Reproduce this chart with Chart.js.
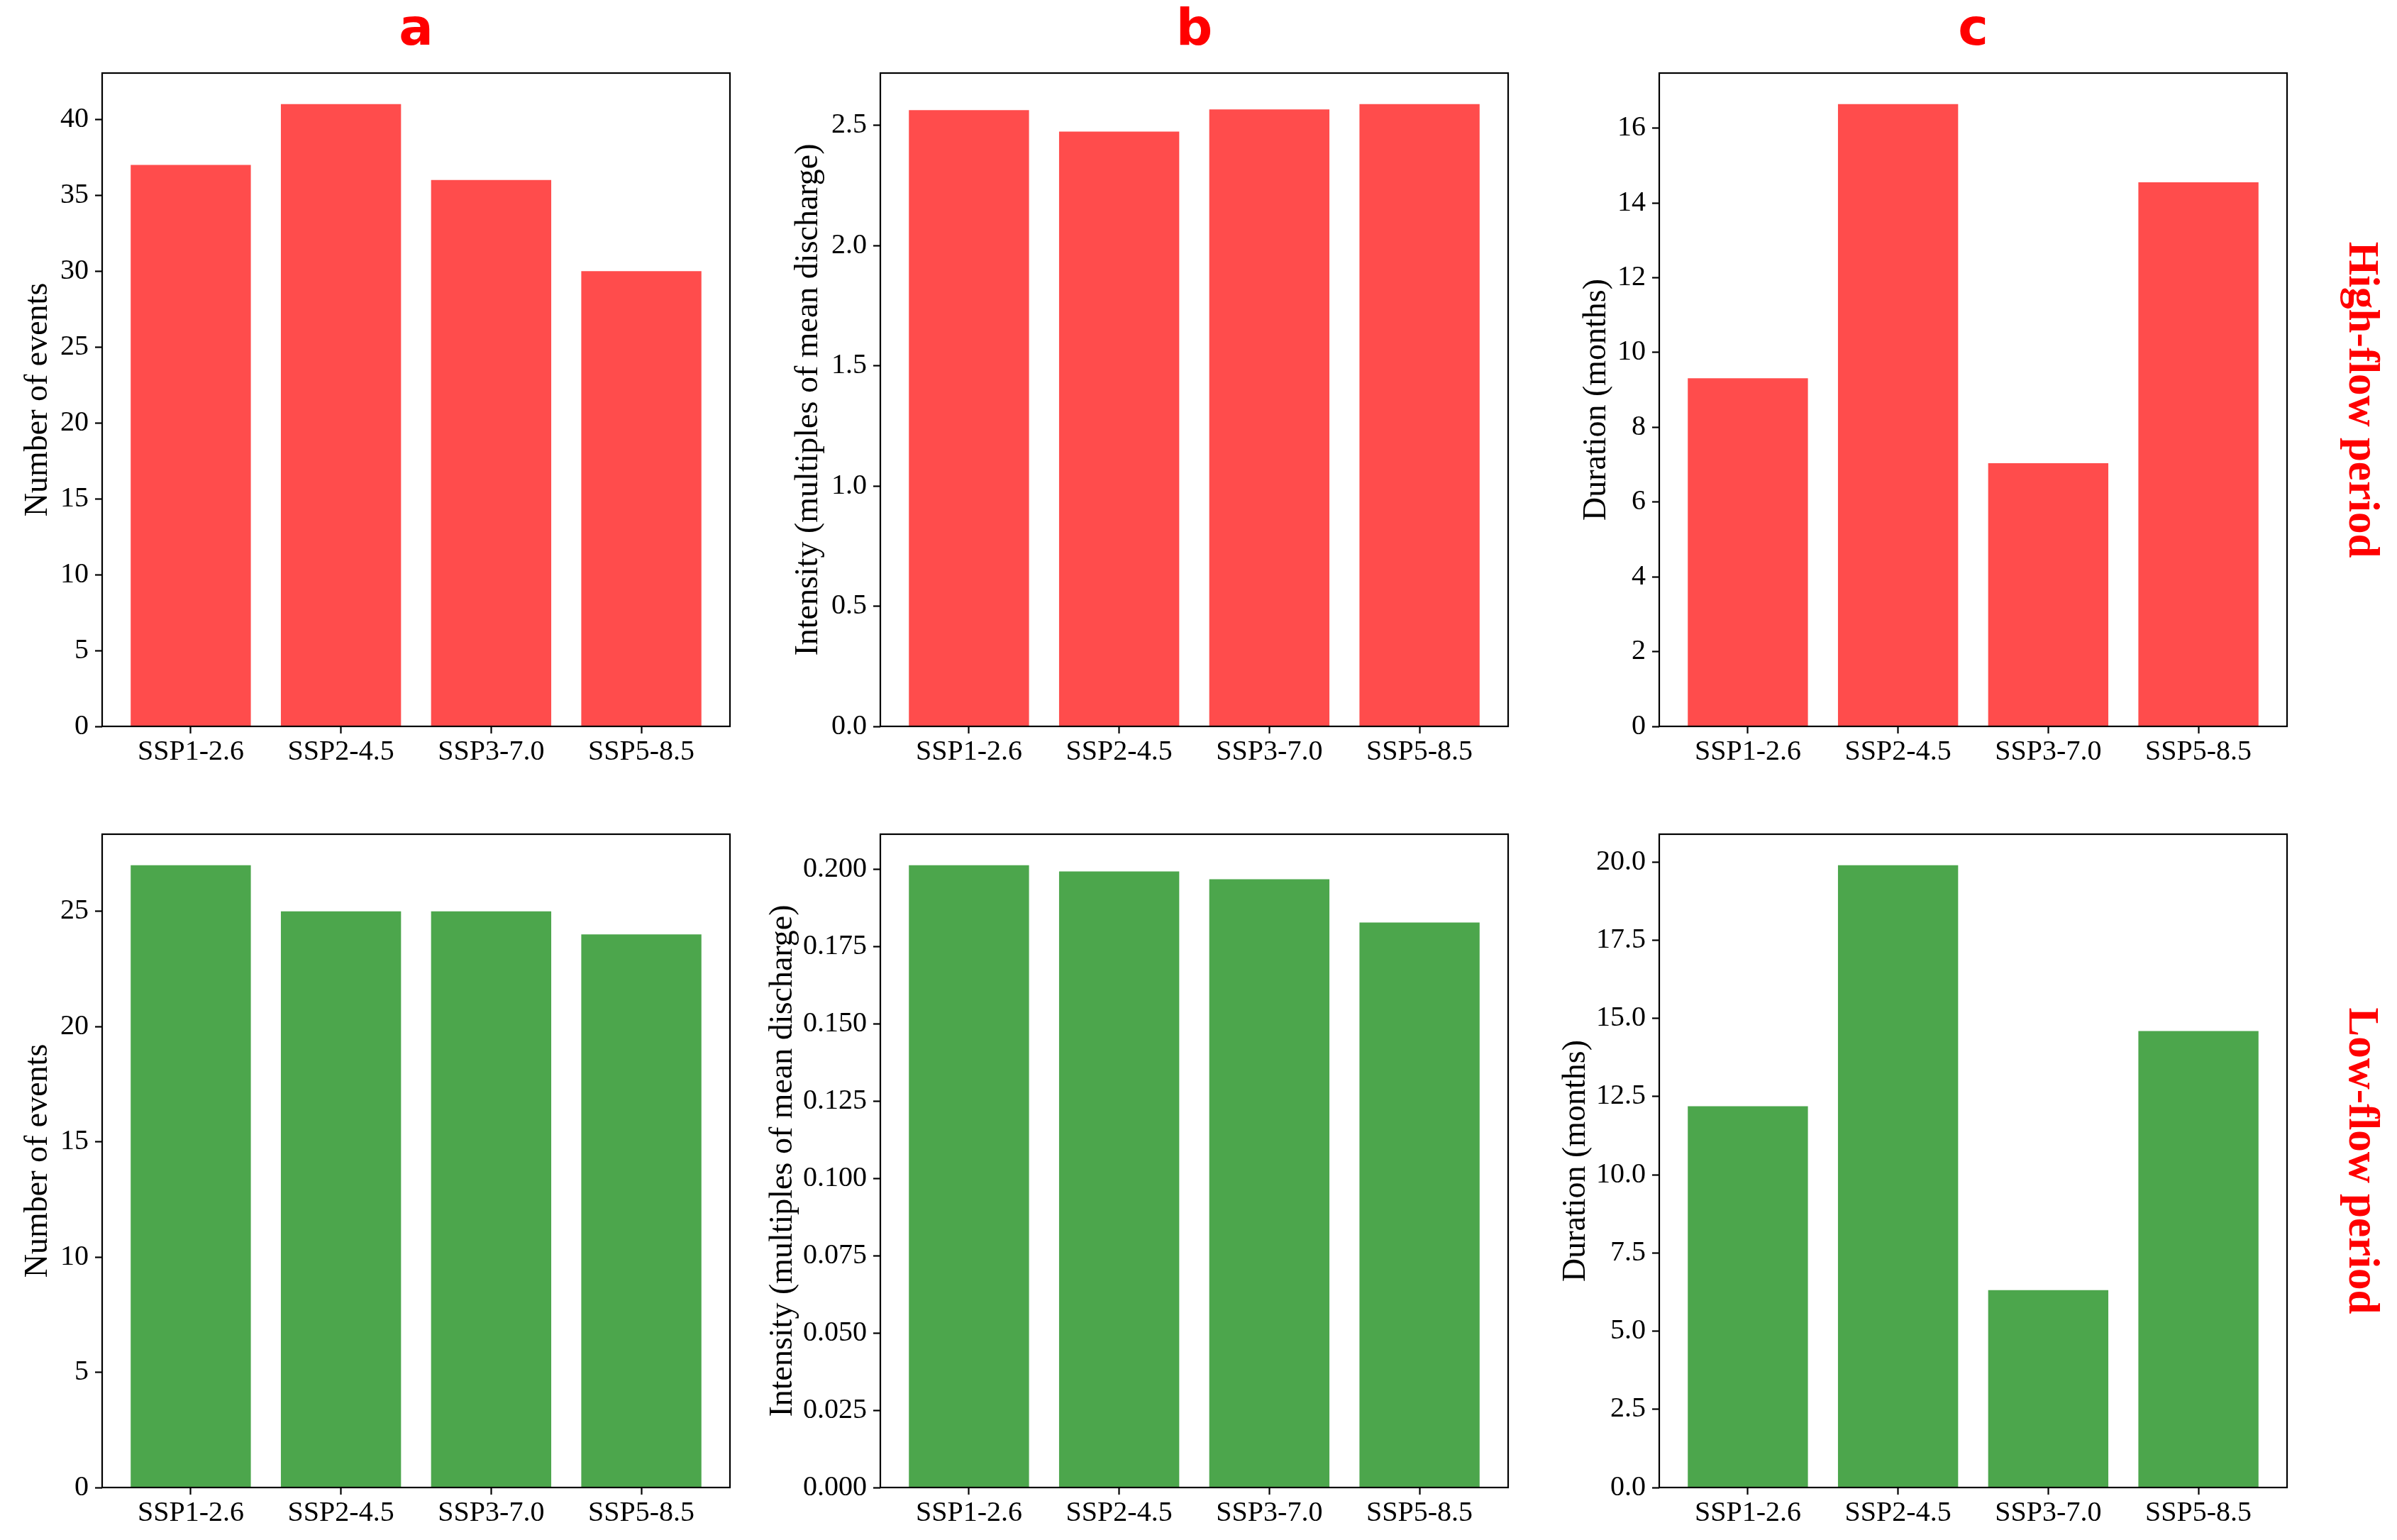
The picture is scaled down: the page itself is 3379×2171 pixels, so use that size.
<!DOCTYPE html>
<html>
<head>
<meta charset="utf-8">
<script src="https://cdn.jsdelivr.net/npm/chart.js@4.4.1/dist/chart.umd.min.js"></script>
<style>
html, body { margin:0; padding:0; background:#fff; width:3379px; height:2171px; overflow:hidden; }
</style>
</head>
<body>
<script>
// ---------------- data ----------------
const scenarios = ['SSP1-2.6', 'SSP2-4.5', 'SSP3-7.0', 'SSP5-8.5'];

const highCount     = [37, 41, 36, 30];
const highIntensity = [2.563, 2.474, 2.566, 2.588];
const highDuration  = [9.31, 16.64, 7.04, 14.55];

const lowCount      = [27, 25, 25, 24];
const lowIntensity  = [0.2014, 0.1994, 0.1969, 0.1829];
const lowDuration   = [12.19, 19.89, 6.31, 14.59];

const highCountTicks     = [0, 5, 10, 15, 20, 25, 30, 35, 40];
const highIntensityTicks = [0, 0.5, 1.0, 1.5, 2.0, 2.5];
const highDurationTicks  = [0, 2, 4, 6, 8, 10, 12, 14, 16];
const lowCountTicks      = [0, 5, 10, 15, 20, 25];
const lowIntensityTicks  = [0, 0.025, 0.05, 0.075, 0.1, 0.125, 0.15, 0.175, 0.2];
const lowDurationTicks   = [0, 2.5, 5, 7.5, 10, 12.5, 15, 17.5, 20];

const panelLetters = ['a', 'b', 'c'];
const rowLabels = ['High-flow period', 'Low-flow period'];
const yTitles = ['Number of events', 'Intensity (multiples of mean discharge)', 'Duration (months)'];

// ---------------- layout / style ----------------
const colL = [144, 1241, 2339];
const colW = 885;
const rowT = [103, 1176];
const rowH = 921;
const rowColors = ['rgba(255,0,0,0.7)', 'rgba(0,128,0,0.7)'];
const SERIF = 'Liberation Serif';

const frame = {
  id: 'frame',
  afterDatasetsDraw(chart) {
    const { ctx, chartArea: a } = chart;
    ctx.save();
    ctx.strokeStyle = '#000';
    ctx.lineWidth = 2.2;
    ctx.strokeRect(a.left, a.top, a.right - a.left, a.bottom - a.top);
    ctx.restore();
  }
};

function makePanel(row, col, values, ticks, decimals, titleBaseline) {
  const L = colL[col], T = rowT[row], B = T + rowH;
  const left = Math.round(titleBaseline - 15 - 28);
  const yW = L - left;
  const topH = row === 0 ? T : 60;
  const botH = row === 0 ? 80 : 2171 - B;
  const rightW = col === 2 ? 134 : 20;

  const div = document.createElement('div');
  div.style.cssText = `position:absolute;left:${left}px;top:${T - topH}px;width:${yW + colW + rightW}px;height:${topH + rowH + botH}px;`;
  const cv = document.createElement('canvas');
  div.appendChild(cv);
  document.body.appendChild(div);

  const tickFont = { family: SERIF, size: 40 };

  new Chart(cv, {
    type: 'bar',
    data: {
      datasets: [{
        data: values.map((v, i) => ({ x: i, y: v })),
        backgroundColor: rowColors[row],
        borderWidth: 0,
        categoryPercentage: 1.0,
        barPercentage: 0.8
      }]
    },
    options: {
      responsive: true,
      maintainAspectRatio: false,
      animation: false,
      devicePixelRatio: 1,
      layout: { padding: 0 },
      plugins: { legend: { display: false }, tooltip: { enabled: false }, title: { display: false } },
      scales: {
        x: {
          type: 'linear', position: 'bottom', min: -0.59, max: 3.59, bounds: 'data', offset: false,
          afterBuildTicks: s => { s.ticks = scenarios.map((_, i) => ({ value: i })); },
          ticks: { callback: v => scenarios[v] ?? '', font: tickFont, color: '#000', padding: 2, maxRotation: 0, autoSkip: false },
          grid: { display: true, offset: false, drawOnChartArea: false, drawTicks: true, tickLength: 10, tickColor: '#000', tickWidth: 2.2 },
          border: { display: false },
          afterFit: s => { s.height = botH; }
        },
        y: {
          type: 'linear', position: 'left', min: 0, max: Math.max(...values) * 1.05, bounds: 'data',
          afterBuildTicks: s => { s.ticks = ticks.map(v => ({ value: v })); },
          ticks: { callback: v => Number(v).toFixed(decimals), font: tickFont, color: '#000', padding: 9, autoSkip: false },
          grid: { display: true, drawOnChartArea: false, drawTicks: true, tickLength: 10, tickColor: '#000', tickWidth: 2.2 },
          border: { display: false },
          title: { display: true, text: yTitles[col], font: { family: SERIF, size: 46 }, color: '#000', padding: 0 },
          afterFit: s => { s.width = yW; }
        },
        x2: {
          type: 'linear', position: 'top', display: true,
          grid: { display: false }, border: { display: false }, ticks: { display: false },
          title: { display: row === 0, text: panelLetters[col], color: '#FF0000',
                   font: { family: 'DejaVu Sans', weight: 'bold', size: 72, lineHeight: 1 },
                   padding: { top: 8, bottom: 0 } },
          afterFit: s => { s.height = topH; }
        },
        y2: {
          type: 'linear', position: 'right', display: true,
          grid: { display: false }, border: { display: false }, ticks: { display: false },
          title: { display: col === 2, text: rowLabels[row], color: '#FF0000',
                   font: { family: SERIF, weight: 'bold', size: 61, lineHeight: 1 }, padding: 0 },
          afterFit: s => { s.width = rightW; }
        }
      }
    },
    plugins: [frame]
  });
}

makePanel(0, 0, highCount,     highCountTicks,     0, 69);
makePanel(0, 1, highIntensity, highIntensityTicks, 1, 1155);
makePanel(0, 2, highDuration,  highDurationTicks,  0, 2266);
makePanel(1, 0, lowCount,      lowCountTicks,      0, 69);
makePanel(1, 1, lowIntensity,  lowIntensityTicks,  3, 1119);
makePanel(1, 2, lowDuration,   lowDurationTicks,   1, 2237);
</script>
</body>
</html>
